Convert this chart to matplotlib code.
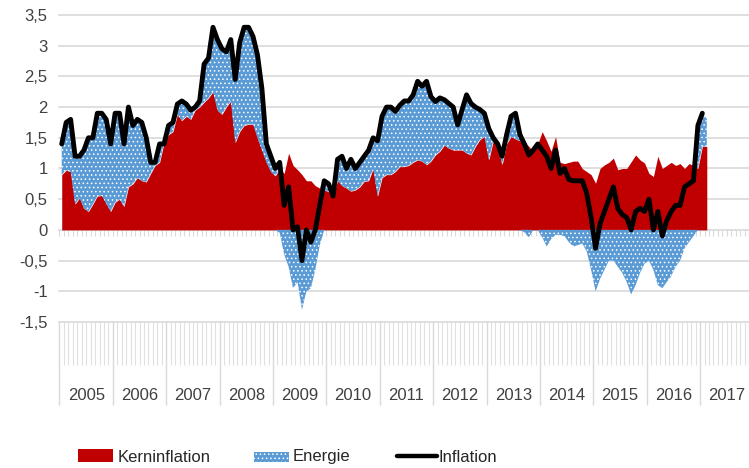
import matplotlib.pyplot as plt
import matplotlib.transforms as mtransforms
from matplotlib.patches import Rectangle
from matplotlib.lines import Line2D
import numpy as np

plt.rcParams["font.family"] = ["Liberation Sans", "DejaVu Sans"]
plt.rcParams["hatch.linewidth"] = 0.6

years = [str(y) for y in range(2005, 2018)]

# monthly values, Jan 2005 .. Jan 2017
inflation = [
    1.4, 1.75, 1.8, 1.2, 1.2, 1.3, 1.5, 1.5, 1.9, 1.9, 1.8, 1.4,          # 2005
    1.9, 1.9, 1.4, 2.0, 1.7, 1.8, 1.75, 1.5, 1.1, 1.1, 1.4, 1.4,          # 2006
    1.7, 1.75, 2.05, 2.1, 2.05, 1.95, 2.0, 2.1, 2.7, 2.8, 3.3, 3.1,       # 2007
    2.95, 2.9, 3.1, 2.45, 3.05, 3.3, 3.3, 3.15, 2.85, 2.3, 1.4, 1.2,      # 2008
    1.0, 1.1, 0.4, 0.7, 0.0, 0.05, -0.5, 0.0, -0.2, 0.0, 0.4, 0.8,        # 2009
    0.75, 0.55, 1.15, 1.2, 1.0, 1.15, 1.0, 1.1, 1.2, 1.3, 1.5, 1.45,      # 2010
    1.85, 2.0, 2.0, 1.93, 2.03, 2.1, 2.1, 2.2, 2.42, 2.34, 2.42, 2.17,    # 2011
    2.09, 2.15, 2.12, 2.06, 2.0, 1.71, 1.96, 2.2, 2.06, 2.0, 1.96, 1.9,   # 2012
    1.65, 1.5, 1.4, 1.2, 1.55, 1.85, 1.9, 1.55, 1.4, 1.22, 1.3, 1.4,      # 2013
    1.3, 1.2, 1.0, 1.3, 0.92, 1.0, 0.82, 0.8, 0.8, 0.8, 0.6, 0.2,         # 2014
    -0.3, 0.1, 0.3, 0.5, 0.7, 0.35, 0.25, 0.2, 0.0, 0.3, 0.35, 0.3,       # 2015
    0.5, 0.0, 0.3, -0.1, 0.15, 0.3, 0.4, 0.4, 0.7, 0.75, 0.8, 1.7,        # 2016
    1.9,                                                                  # 2017
]

# Kerninflation, Jan 2005 .. Feb 2017
core = [
    0.9, 0.97, 0.95, 0.42, 0.52, 0.35, 0.3, 0.42, 0.55, 0.56, 0.43, 0.3,
    0.45, 0.5, 0.38, 0.7, 0.75, 0.85, 0.8, 0.78, 0.92, 1.05, 1.1, 1.42,
    1.55, 1.6, 1.88, 1.78, 1.85, 1.8, 1.95, 2.0, 2.08, 2.15, 2.25, 1.95,
    1.88, 2.0, 2.1, 1.42, 1.6, 1.7, 1.72, 1.72, 1.5, 1.3, 1.1, 0.95,
    0.88, 1.0, 0.92, 1.25, 1.05, 0.98, 0.9, 0.8, 0.8, 0.72, 0.68, 0.65,
    0.62, 0.55, 0.8, 0.72, 0.68, 0.63, 0.65, 0.7, 0.79, 0.8, 1.0, 0.55,
    0.85, 0.9, 0.9, 0.95, 1.03, 1.03, 1.05, 1.1, 1.14, 1.12, 1.06, 1.12,
    1.22, 1.28, 1.38, 1.33, 1.3, 1.3, 1.3, 1.25, 1.22, 1.36, 1.47, 1.52,
    1.14, 1.45, 1.4, 1.06, 1.4, 1.52, 1.48, 1.45, 1.44, 1.36, 1.28, 1.4,
    1.6, 1.45, 1.28, 1.52, 1.1, 1.08, 1.1, 1.12, 1.12, 1.0, 0.95, 0.9,
    0.76, 1.0, 1.06, 1.1, 1.17, 0.98, 1.0, 1.0, 1.11, 1.22, 1.14, 1.09,
    0.92, 0.87, 1.2, 1.0, 1.05, 1.1, 1.05, 1.08, 1.0, 1.08, 1.05, 1.0,
    1.36, 1.36,
]

# Energie contribution, Jan 2005 .. Feb 2017
energy = [
    0.5, 0.78, 0.85, 0.78, 0.68, 0.95, 1.2, 1.08, 1.35, 1.34, 1.37, 1.1,
    1.45, 1.4, 1.02, 1.3, 0.95, 0.95, 0.95, 0.72, 0.18, 0.05, 0.3, 0.0,
    0.15, 0.15, 0.17, 0.32, 0.2, 0.15, 0.05, 0.1, 0.62, 0.65, 1.05, 1.15,
    1.07, 0.9, 1.0, 1.03, 1.45, 1.6, 1.58, 1.43, 1.35, 1.0, 0.3, 0.25,
    0.12, -0.05, -0.4, -0.6, -0.95, -0.85, -1.3, -1.0, -0.95, -0.65, -0.25, 0.15,
    0.13, 0.0, 0.35, 0.48, 0.32, 0.52, 0.35, 0.4, 0.41, 0.5, 0.5, 0.9,
    1.0, 1.1, 1.1, 0.98, 1.0, 1.07, 1.05, 1.1, 1.28, 1.22, 1.36, 1.05,
    0.87, 0.87, 0.74, 0.73, 0.7, 0.41, 0.66, 0.95, 0.84, 0.64, 0.49, 0.38,
    0.51, 0.05, 0.0, 0.14, 0.15, 0.33, 0.42, 0.1, -0.04, -0.12, 0.02, 0.0,
    -0.12, -0.27, -0.15, -0.08, -0.08, -0.1, -0.2, -0.27, -0.25, -0.22, -0.35, -0.65,
    -1.0, -0.8, -0.65, -0.5, -0.5, -0.6, -0.7, -0.85, -1.05, -0.9, -0.7, -0.55,
    -0.5, -0.65, -0.9, -0.95, -0.85, -0.75, -0.6, -0.5, -0.3, -0.2, -0.1, 0.7,
    0.54, 0.45,
]

ytick_values = [3.5, 3, 2.5, 2, 1.5, 1, 0.5, 0, -0.5, -1, -1.5]
ytick_labels = ["3,5", "3", "2,5", "2", "1,5", "1", "0,5", "0", "-0,5", "-1", "-1,5"]
legend_labels = ["Kerninflation", "Energie", "Inflation"]

RED = "#c00000"
BLUE = "#5b9bd5"
GRID = "#d9d9d9"
TEXT = "#404040"

W, H = 749, 468
fig = plt.figure(figsize=(W / 100, H / 100), dpi=100)
ax = fig.add_axes([59.5 / W, 1 - 322 / H, 694 / W, 307 / H])

n_months = 12 * len(years)
ax.set_xlim(-0.5, n_months - 0.5)
ax.set_ylim(-1.5, 3.5)

for v in ytick_values:
    ax.axhline(v, color=GRID, lw=1.2, zorder=0, clip_on=False)

# short monthly ticks under the zero line
bounds = np.arange(n_months + 1) - 0.5
ax.vlines(bounds, -0.1, 0, color=GRID, lw=0.8, zorder=0)

xa = np.arange(len(core))
c = np.array(core)
e = np.array(energy)
ax.fill_between(xa, 0, c, color=RED, lw=0, zorder=2)
ax.fill_between(xa, c, c + np.clip(e, 0, None), facecolor=BLUE,
                edgecolor="white", hatch="....", lw=0, zorder=2)
ax.fill_between(xa, 0, np.clip(e, None, 0), facecolor=BLUE,
                edgecolor="white", hatch="....", lw=0, zorder=2)
ax.plot(np.arange(len(inflation)), inflation, color="black", lw=3.5,
        solid_joinstyle="round", solid_capstyle="round", zorder=3)

ax.set_yticks(ytick_values, ytick_labels)
ax.tick_params(axis="y", length=0, pad=8.5, labelsize=12, labelcolor=TEXT)

ax.set_xticks(np.arange(0, n_months + 1, 12) - 0.5)
ax.set_xticks(bounds, minor=True)
ax.tick_params(axis="x", which="major", length=60, width=1, color=GRID,
               labelbottom=False)
ax.tick_params(axis="x", which="minor", length=31, width=0.8, color="#e0e0e0")
for s in ax.spines.values():
    s.set_visible(False)

trans = mtransforms.blended_transform_factory(ax.transData, ax.transAxes)
for k, yr in enumerate(years):
    ax.text(12 * k + 5.5, -73 / 307, yr, transform=trans, ha="center",
            va="center", fontsize=12, color=TEXT)

# legend
def fx(x):
    return x / W

def fy(y):
    return 1 - y / H

fig.add_artist(Rectangle((fx(78), fy(462)), 35 / W, 13 / H, transform=fig.transFigure,
                         facecolor=RED, lw=0))
fig.add_artist(Rectangle((fx(254), fy(462)), 35 / W, 10 / H, transform=fig.transFigure,
                         facecolor=BLUE, edgecolor="white", hatch="....", lw=0))
fig.add_artist(Line2D([fx(397), fx(437)], [fy(456), fy(456)], transform=fig.transFigure,
                      color="black", lw=3.2, solid_capstyle="round"))
for x, lab in zip([118, 293, 438], legend_labels):
    fig.text(fx(x), fy(457), lab, ha="left", va="center", fontsize=12, color="#262626")

fig.savefig("out.png", dpi=100)
